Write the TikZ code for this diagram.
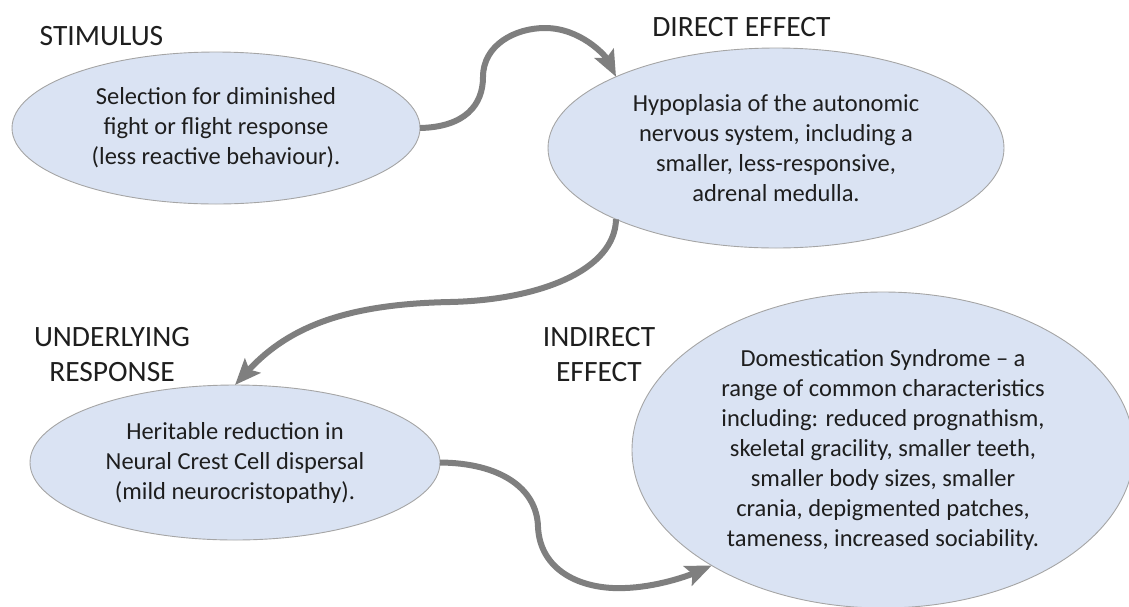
\documentclass[tikz,border=0pt]{standalone}
\usepackage{fontspec}
\setmainfont{Carlito}
\usetikzlibrary{arrows.meta,shapes.geometric}
\definecolor{fillblue}{HTML}{DAE3F3}
\definecolor{edgegray}{HTML}{A5A5A5}
\definecolor{arrowgray}{HTML}{7F7F7F}
\definecolor{txt}{HTML}{1E1E1E}
\begin{document}
\begin{tikzpicture}[x=1pt,y=-1pt,
  bubble/.style={ellipse, draw=edgegray, line width=0.9pt, fill=fillblue,
    inner sep=0pt, outer sep=0pt, align=center, text=txt,
    font=\fontsize{24.5}{30}\selectfont},
  heading/.style={align=center, text=txt, inner sep=0pt,
    font=\fontsize{29.5}{35}\selectfont},
  flow/.style={draw=arrowgray, line width=6pt,
    -{Stealth[length=26pt,width=21pt,inset=5pt]}}]
\useasboundingbox (0,0) rectangle (1129,606);

\node[bubble, minimum width=408pt, minimum height=152pt] (e1) at (216,128)
  {Selection for diminished\\fight or flight response\\(less reactive behaviour).};
\node[bubble, minimum width=456pt, minimum height=200pt] (e2) at (776,148)
  {Hypoplasia of the autonomic\\nervous system, including a\\smaller, less-responsive,\\adrenal medulla.};
\node[bubble, minimum width=410pt, minimum height=155pt] (e3) at (235,462.5)
  {Heritable reduction in\\Neural Crest Cell dispersal\\(mild neurocristopathy).};
\node[bubble, minimum width=502pt, minimum height=316pt] (e4) at (883,450)
  {Domestication Syndrome -- a\\range of common characteristics\\including: reduced prognathism,\\skeletal gracility, smaller teeth,\\smaller body sizes, smaller\\crania, depigmented patches,\\tameness, increased sociability.};

\node[heading] (t1) at (101.5,36.5) {STIMULUS};
\node[heading] (t2) at (741.5,27) {DIRECT EFFECT};
\node[heading] (t3) at (112,355) {UNDERLYING\\RESPONSE};
\node[heading] (t4) at (599,355) {INDIRECT\\EFFECT};

\draw[flow] (e1.east) .. controls (465,127) and (483,105) .. (483,77)
  .. controls (483,45) and (515,28) .. (545,28)
  .. controls (580,28) and (605,55) .. (e2.156);
\draw[flow] (e2.204) .. controls (615,270) and (540,300) .. (450,302)
  .. controls (350,304) and (290,325) .. (e3.north);
\draw[flow] (e3.east) .. controls (500,463) and (537,488) .. (538,527)
  .. controls (540,570) and (580,590) .. (625,588)
  .. controls (655,587) and (685,577) .. (e4.214);
\end{tikzpicture}
\end{document}
